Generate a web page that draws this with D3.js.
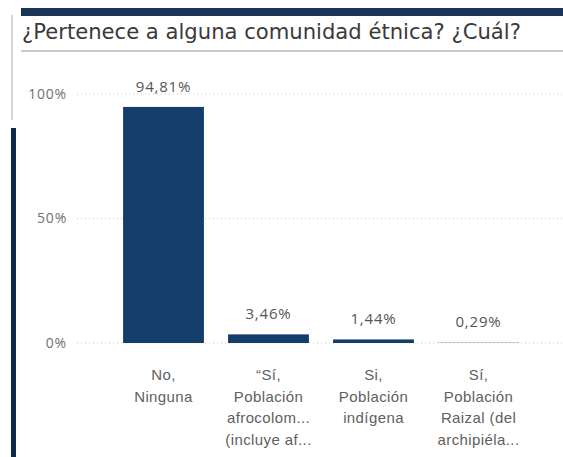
<html>
<head>
<script src="https://d3js.org/d3.v7.min.js"></script>
<style>
  body { margin: 0; background: #fff; }
  svg { font-family: "Open Sans", sans-serif; }
</style>
</head>
<body>
<div id="chart"></div>
<script>
// data
var categories = ["No, Ninguna", "\"Sí, Población afrocolom...", "Si, Población indígena", "Sí, Población Raizal (del archipiéla..."];
var categoryLines = [
  ["No,", "Ninguna"],
  ["\u201CSí,", "Población", "afrocolom...", "(incluye af..."],
  ["Si,", "Población", "indígena"],
  ["Sí,", "Población", "Raizal (del", "archipiéla..."]
];
var shares = [94.81, 3.46, 1.44, 0.29];
var valueLabels = ["94,81%", "3,46%", "1,44%", "0,29%"];
var yTicks = [0, 50, 100];
var yTickLabels = ["0%", "50%", "100%"];
var barColors = ["#143d6b", "#143d6b", "#143d6b", "#a9bdd8"];

var width = 563, height = 457;

var svg = d3.select("#chart").append("svg")
  .attr("width", width)
  .attr("height", height);

// frame decorations
svg.append("rect").attr("x", 21).attr("y", 8).attr("width", width - 21).attr("height", 8).attr("fill", "#1b3556");
svg.append("rect").attr("x", 11).attr("y", 15).attr("width", 2).attr("height", 105).attr("fill", "#d4d4d4");
svg.append("rect").attr("x", 11).attr("y", 128).attr("width", 5).attr("height", height - 128).attr("fill", "#0f2a48");

// title, sized to span the same width as the original
var titleText = "¿Pertenece a alguna comunidad étnica? ¿Cuál?";
var title = svg.append("text")
  .attr("x", 22)
  .attr("y", 39)
  .attr("fill", "#3a3a3a")
  .style("font-family", "'DejaVu Sans', sans-serif")
  .style("font-size", "18px")
  .text(titleText);
var tw = title.node().getComputedTextLength();
title.style("font-size", (18 * 499 / tw) + "px");
svg.append("line")
  .attr("x1", 21).attr("x2", width)
  .attr("y1", 51).attr("y2", 51)
  .attr("stroke", "#b8b8b8").attr("stroke-width", 1.5);

/* Scales */
var x = d3.scaleBand()
  .domain(categories)
  .range([111, 531])
  .paddingInner(0.23)
  .paddingOuter(0.115);
var y = d3.scaleLinear()
  .domain([0, 100])
  .range([343, 94]);

/* Gridlines */
svg.append("g").selectAll("line")
  .data(yTicks).enter()
  .append("line")
  .attr("x1", 77).attr("x2", width)
  .attr("y1", d => y(d)).attr("y2", d => y(d))
  .attr("stroke", "#c8c8c8")
  .attr("stroke-width", 1)
  .attr("stroke-dasharray", "1,3");

/* Y axis */
var yAxis = d3.axisLeft(y)
  .tickValues(yTicks)
  .tickFormat((d, i) => yTickLabels[i])
  .tickSize(0)
  .tickPadding(0);
var gy = svg.append("g")
  .attr("transform", "translate(67,0)")
  .call(yAxis);
gy.select(".domain").remove();
gy.selectAll("text")
  .attr("fill", "#707070")
  .style("font-size", "14px")
  .style("letter-spacing", "0.8px")
  .style("font-family", "'Open Sans', sans-serif");

/* Bars */
svg.append("g").selectAll("rect")
  .data(shares).enter()
  .append("rect")
  .attr("x", (d, i) => x(categories[i]))
  .attr("y", d => y(d))
  .attr("width", x.bandwidth())
  .attr("height", d => y(0) - y(d))
  .attr("fill", (d, i) => barColors[i]);

/* Value labels */
svg.append("g").selectAll("text")
  .data(shares).enter()
  .append("text")
  .attr("x", (d, i) => x(categories[i]) + x.bandwidth() / 2)
  .attr("y", d => y(d) - 15)
  .attr("text-anchor", "middle")
  .attr("fill", "#555")
  .style("font-size", "15px")
  .style("letter-spacing", "0.8px")
  .text((d, i) => valueLabels[i]);

/* X axis labels */
var xAxis = d3.axisBottom(x).tickSize(0).tickFormat("");
var gx = svg.append("g")
  .attr("transform", "translate(0,343)")
  .call(xAxis);
gx.select(".domain").remove();
gx.selectAll(".tick").each(function(d, i) {
  var t = d3.select(this).append("text")
    .attr("text-anchor", "middle")
    .attr("fill", "#606060")
    .style("font-size", "15px")
    .style("letter-spacing", "0.4px");
  categoryLines[i].forEach(function(line, j) {
    t.append("tspan")
      .attr("x", 0)
      .attr("y", 37 + j * 21.5)
      .text(line);
  });
});
</script>
</body>
</html>
